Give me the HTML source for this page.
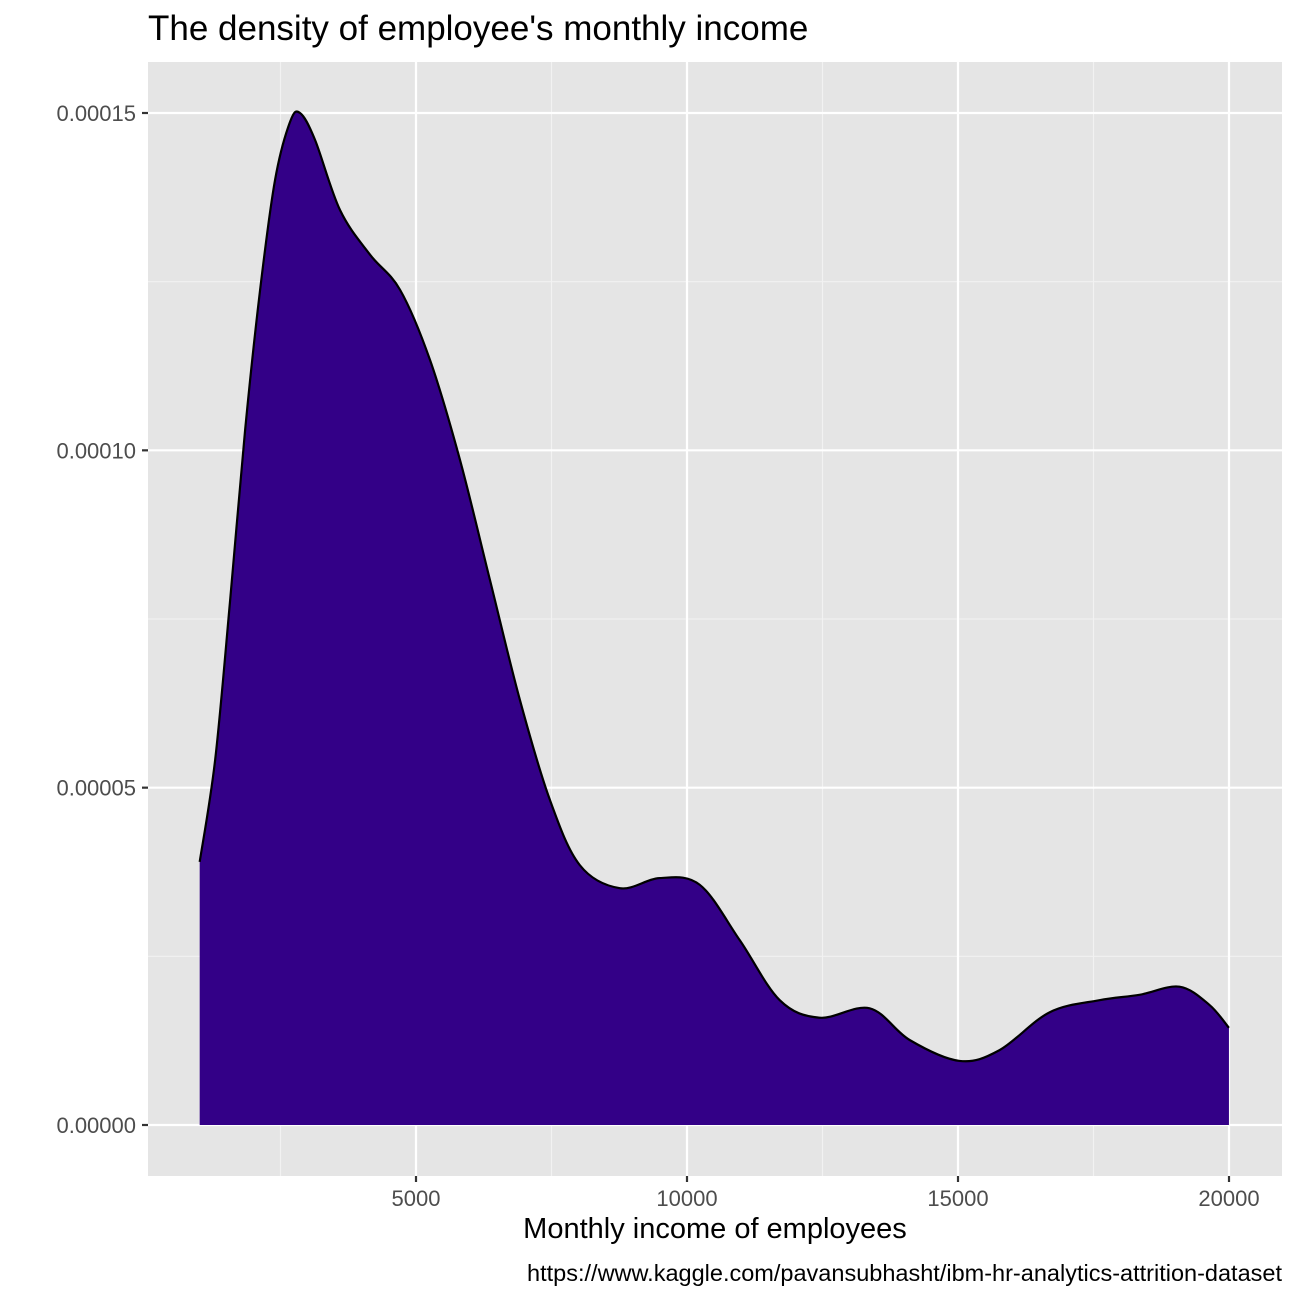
<!DOCTYPE html>
<html><head><meta charset="utf-8"><style>body{margin:0;background:#fff}svg{display:block;font-family:"Liberation Sans",Arial,sans-serif}</style></head>
<body>
<svg id="chart" width="1296" height="1296" viewBox="0 0 1296 1296">
<rect x="0" y="0" width="1296" height="1296" fill="#fff"/>
<text x="148" y="40" font-size="35" fill="#000">The density of employee's monthly income</text>
<rect x="148" y="62" width="1134" height="1114" fill="#e5e5e5"/>
<g id="grid"></g>
<g id="marks"></g>
<g id="axes"></g>
<text x="715" y="1238" font-size="29" text-anchor="middle" fill="#000">Monthly income of employees</text>
<text x="1282" y="1281" font-size="23.5" text-anchor="end" fill="#000">https://www.kaggle.com/pavansubhasht/ibm-hr-analytics-attrition-dataset</text>
</svg>
<script>
const income=[1009,1294,1571,1847,2124,2400,2677,2861,3138,3599,4152,4705,5258,5811,6364,6917,7470,8024,8761,9499,10236,10973,11711,12448,13370,14108,15029,15767,16689,17611,18348,19086,19639,19999];
const density=[3.90e-5,5.41e-5,7.78e-5,10.30e-5,12.38e-5,14.01e-5,14.87e-5,15.0e-5,14.6e-5,13.56e-5,12.9e-5,12.38e-5,11.34e-5,9.86e-5,8.08e-5,6.30e-5,4.82e-5,3.85e-5,3.51e-5,3.66e-5,3.56e-5,2.74e-5,1.85e-5,1.59e-5,1.73e-5,1.26e-5,0.95e-5,1.11e-5,1.67e-5,1.85e-5,1.93e-5,2.05e-5,1.78e-5,1.44e-5];
const xTicks=[5000,10000,15000,20000];
const xMinor=[2500,7500,12500,17500];
const yTicks=[0,0.00005,0.0001,0.00015];
const yTickLabels=["0.00000","0.00005","0.00010","0.00015"];
const yMinor=[0.000025,0.000075,0.000125];
const NS="http://www.w3.org/2000/svg";
const X=v=>416+(v-5000)*(1229-416)/15000;
const Y=v=>1125-v*(1125-113)/0.00015;
function mk(tag,attrs,parent){const e=document.createElementNS(NS,tag);for(const k in attrs)e.setAttribute(k,attrs[k]);parent.appendChild(e);return e;}
const grid=document.getElementById('grid'),marks=document.getElementById('marks'),axes=document.getElementById('axes');
xMinor.forEach(v=>{const l=mk('line',{x1:X(v),x2:X(v),y1:62,y2:1176,stroke:'#f2f2f2','stroke-width':1.1},grid);

});
yMinor.forEach(v=>{const l=mk('line',{x1:148,x2:1282,y1:Y(v),y2:Y(v),stroke:'#f2f2f2','stroke-width':1.1},grid);

});
xTicks.forEach(v=>{const l=mk('line',{x1:X(v),x2:X(v),y1:62,y2:1176,stroke:'#fff','stroke-width':2.2},grid);


const t=mk('line',{x1:X(v),x2:X(v),y1:1176,y2:1182,stroke:'#333','stroke-width':2.2},axes);


const tx=mk('text',{x:X(v),y:1206,'font-size':22,'text-anchor':'middle',fill:'#4d4d4d'},axes);tx.textContent=v;

});
yTicks.forEach((v,i)=>{const l=mk('line',{x1:148,x2:1282,y1:Y(v),y2:Y(v),stroke:'#fff','stroke-width':2.2},grid);


const t=mk('line',{x1:142,x2:148,y1:Y(v),y2:Y(v),stroke:'#333','stroke-width':2.2},axes);


const tx=mk('text',{x:136,y:Y(v)+8,'font-size':22,'text-anchor':'end',fill:'#4d4d4d'},axes);tx.textContent=yTickLabels[i];

});
const P=income.map((v,i)=>[X(v),Y(density[i])]);
let d='M'+P[0][0]+','+P[0][1];
for(let i=0;i<P.length-1;i++){const p0=P[Math.max(i-1,0)],p1=P[i],p2=P[i+1],p3=P[Math.min(i+2,P.length-1)];
d+=' C'+(p1[0]+(p2[0]-p0[0])/6)+','+(p1[1]+(p2[1]-p0[1])/6)+' '+(p2[0]-(p3[0]-p1[0])/6)+','+(p2[1]-(p3[1]-p1[1])/6)+' '+p2[0]+','+p2[1];}
const area=mk('path',{d:d+' L'+P[P.length-1][0]+','+Y(0)+' L'+P[0][0]+','+Y(0)+' Z',fill:'#330087',stroke:'none'},marks);


const line=mk('path',{d:d,fill:'none',stroke:'#000','stroke-width':2.2},marks);


</script>
</body></html>
